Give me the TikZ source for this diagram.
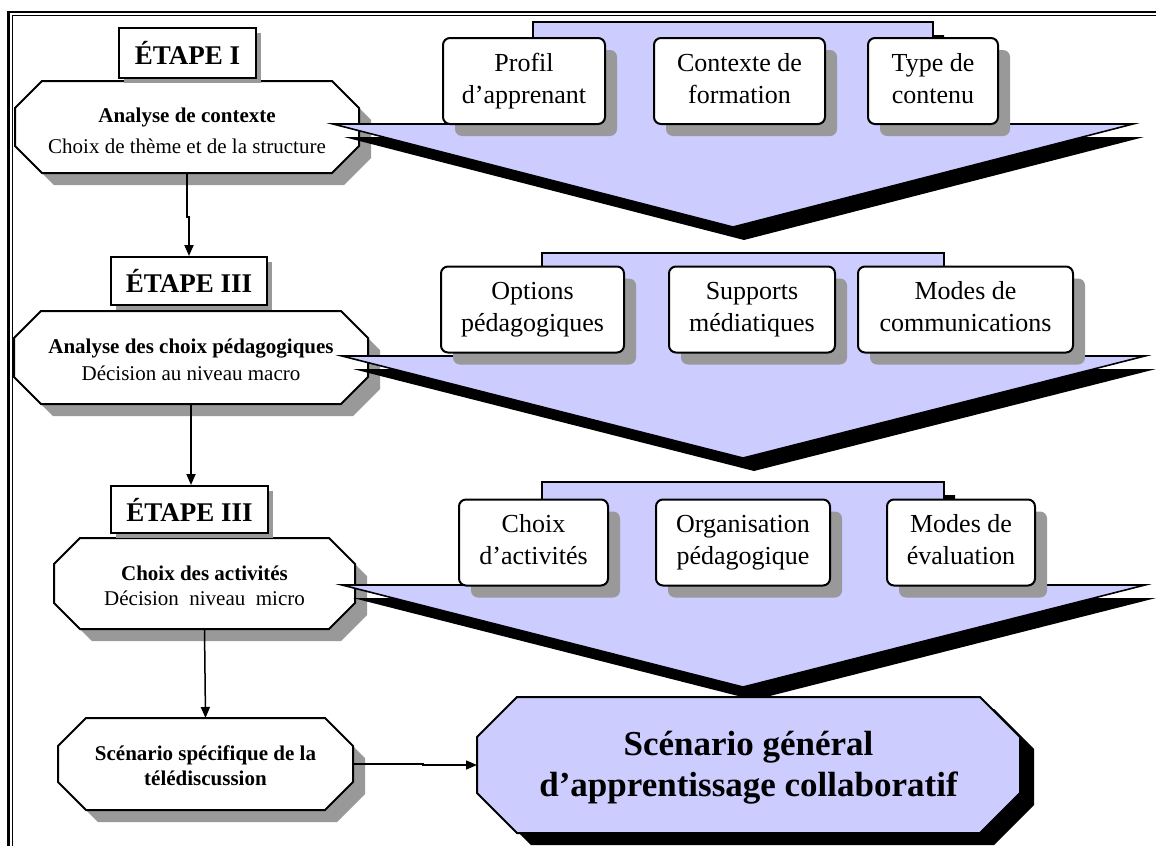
\documentclass[tikz,border=0pt]{standalone}
\usepackage{fontspec}
\setmainfont{Liberation Serif}
\usetikzlibrary{arrows.meta,shadows}

\definecolor{arrowblue}{RGB}{204,204,255}
\definecolor{shadowgray}{RGB}{153,153,153}

% Octagon outline around a rectangular node: node, chamfer x, chamfer y, offset x, offset y
\newcommand\octagonpath[5]{%
  ([xshift=#2+(#4),yshift=#5]#1.north west) --
  ([xshift=-#2+(#4),yshift=#5]#1.north east) --
  ([xshift=#4,yshift=-#3+(#5)]#1.north east) --
  ([xshift=#4,yshift=#3+(#5)]#1.south east) --
  ([xshift=-#2+(#4),yshift=#5]#1.south east) --
  ([xshift=#2+(#4),yshift=#5]#1.south west) --
  ([xshift=#4,yshift=#3+(#5)]#1.south west) --
  ([xshift=#4,yshift=-#3+(#5)]#1.north west) -- cycle}

% Wide downward funnel arrow: top, stem left, stem right, wing y, left tip, right tip, bottom x, bottom y
\newcommand\funnelpath[8]{%
  (#5,#4) -- (#2,#4) -- (#2,#1) -- (#3,#1) -- (#3,#4) -- (#6,#4) -- (#7,#8) -- cycle}

% two centred lines with equal strut height
\newcommand\twolines[2]{\strut #1\\\strut #2}

\begin{document}
\begin{tikzpicture}[x=1pt,y=-1pt,
  octnode/.style={rectangle, inner sep=0pt, outer sep=0pt},
  octline/.style={draw=black, line width=2pt, fill=white},
  octtext/.style={align=center, inner sep=0pt},
  etape/.style={draw, line width=2pt, fill=white, inner sep=0pt,
    font=\fontsize{27}{30}\selectfont\bfseries,
    drop shadow={shadow xshift=5pt, shadow yshift=-5pt, fill=shadowgray, opacity=1}},
  rowbox/.style={draw, line width=2pt, fill=white, rounded corners=7pt,
    align=center, inner sep=0pt, minimum height=86pt,
    font=\fontsize{26}{32}\selectfont,
    drop shadow={shadow xshift=12pt, shadow yshift=-12pt, fill=shadowgray, opacity=1}},
  funnel/.style={draw=black, line width=1.6pt, fill=arrowblue},
  funnelshadow/.style={fill=black, shift={(11,13)}},
  conn/.style={line width=1.8pt, -{Triangle[length=11pt,width=9pt]}}
]
\useasboundingbox (0,0) rectangle (1156,846);

% double frame (top and left)
\draw[line width=2.6pt] (8.7,846) -- (8.7,12) -- (1156,12);
\draw[line width=1.3pt] (12.7,846) -- (12.7,15.5) -- (1156,15.5);

% step octagons
\node[octnode, minimum width=344pt, minimum height=92pt] (o1) at (187,127) {};
\fill[shadowgray] \octagonpath{o1}{27pt}{27pt}{12pt}{-12pt};
\draw[octline] \octagonpath{o1}{27pt}{27pt}{0pt}{0pt};
\node[octtext, font=\fontsize{21}{31}\selectfont] (o1t) at ([yshift=-4pt]o1.center)
  {\textbf{Analyse de contexte}\\Choix de thème et de la structure};

\node[octnode, minimum width=354pt, minimum height=93pt] (o2) at (191,357.5) {};
\fill[shadowgray] \octagonpath{o2}{27pt}{27pt}{12pt}{-12pt};
\draw[octline] \octagonpath{o2}{27pt}{27pt}{0pt}{0pt};
\node[octtext, font=\fontsize{21}{27}\selectfont] (o2t) at ([yshift=-2pt]o2.center)
  {\textbf{Analyse des choix pédagogiques}\\Décision au niveau macro};

\node[octnode, minimum width=301pt, minimum height=91pt] (o3) at (204.5,583.5) {};
\fill[shadowgray] \octagonpath{o3}{26pt}{26pt}{12pt}{-12pt};
\draw[octline] \octagonpath{o3}{26pt}{26pt}{0pt}{0pt};
\node[octtext, font=\fontsize{21}{25}\selectfont] (o3t) at ([yshift=-2pt]o3.center)
  {\textbf{Choix des activités}\\Décision\ \ niveau\ \ micro};

\node[octnode, minimum width=295pt, minimum height=92pt] (o4) at (205.5,764) {};
\fill[shadowgray] \octagonpath{o4}{28pt}{28pt}{12pt}{-12pt};
\draw[octline] \octagonpath{o4}{28pt}{28pt}{0pt}{0pt};
\node[octtext, font=\fontsize{21}{25}\selectfont\bfseries] (o4t) at ([yshift=-2pt]o4.center)
  {Scénario spécifique de la\\télédiscussion};

% step labels
\node[etape, minimum width=137pt, minimum height=50pt] (e1) at (187.5,53) {ÉTAPE I};
\node[etape, minimum width=156pt, minimum height=48pt] (e2) at (189,281) {ÉTAPE III};
\node[etape, minimum width=157pt, minimum height=47pt] (e3) at (189.5,509.5) {ÉTAPE III};

% funnel arrows with black shadows
\fill[funnelshadow] \funnelpath{22}{533}{933}{124}{333}{1133}{733}{227};
\draw[funnel] \funnelpath{22}{533}{933}{124}{333}{1133}{733}{227};
\fill[funnelshadow] \funnelpath{253}{542}{944}{356}{342}{1145}{743}{458};
\draw[funnel] \funnelpath{253}{542}{944}{356}{342}{1145}{743}{458};
\fill[funnelshadow] \funnelpath{482}{542}{944}{585}{342}{1145}{743}{687};
\draw[funnel] \funnelpath{482}{542}{944}{585}{342}{1145}{743}{687};

% factor boxes
\node[rowbox, minimum width=162pt] (b11) at (524,81) {\twolines{Profil}{d’apprenant}};
\node[rowbox, minimum width=171pt] (b12) at (739.5,81) {\twolines{Contexte de}{formation}};
\node[rowbox, minimum width=130pt] (b13) at (933,81) {\twolines{Type de}{contenu}};

\node[rowbox, minimum width=183pt] (b21) at (532.5,309.5) {\twolines{Options}{pédagogiques}};
\node[rowbox, minimum width=166pt] (b22) at (752,309.5) {\twolines{Supports}{médiatiques}};
\node[rowbox, minimum width=215pt] (b23) at (965.5,309.5) {\twolines{Modes de}{communications}};

\node[rowbox, minimum width=149pt] (b31) at (533.5,542.5) {\twolines{Choix}{d’activités}};
\node[rowbox, minimum width=174pt] (b32) at (743,542.5) {\twolines{Organisation}{pédagogique}};
\node[rowbox, minimum width=148pt] (b33) at (961,542.5) {\twolines{Modes de}{évaluation}};

% general scenario
\node[octnode, minimum width=543pt, minimum height=136pt] (og) at (748.5,765) {};
\fill[black] \octagonpath{og}{40pt}{40pt}{14pt}{-12pt};
\draw[line width=2pt, fill=arrowblue] \octagonpath{og}{40pt}{40pt}{0pt}{0pt};
\node[octtext, font=\fontsize{35}{41}\selectfont\bfseries] (ogt) at ([yshift=-3pt]og.center)
  {Scénario général\\d’apprentissage collaboratif};

% connectors
\draw[conn] (o1.south) -- ([yshift=-44pt]o1.south) -| (e2.north);
\draw[conn] (o2.south) -- (o2.south |- e3.north);
\draw[conn, line width=1.5pt] (o3.south) -- (o4.north);
\draw[conn, line width=1.5pt] (o4.east) -- ([xshift=70pt]o4.east) |- (og.west);
\end{tikzpicture}
\end{document}
